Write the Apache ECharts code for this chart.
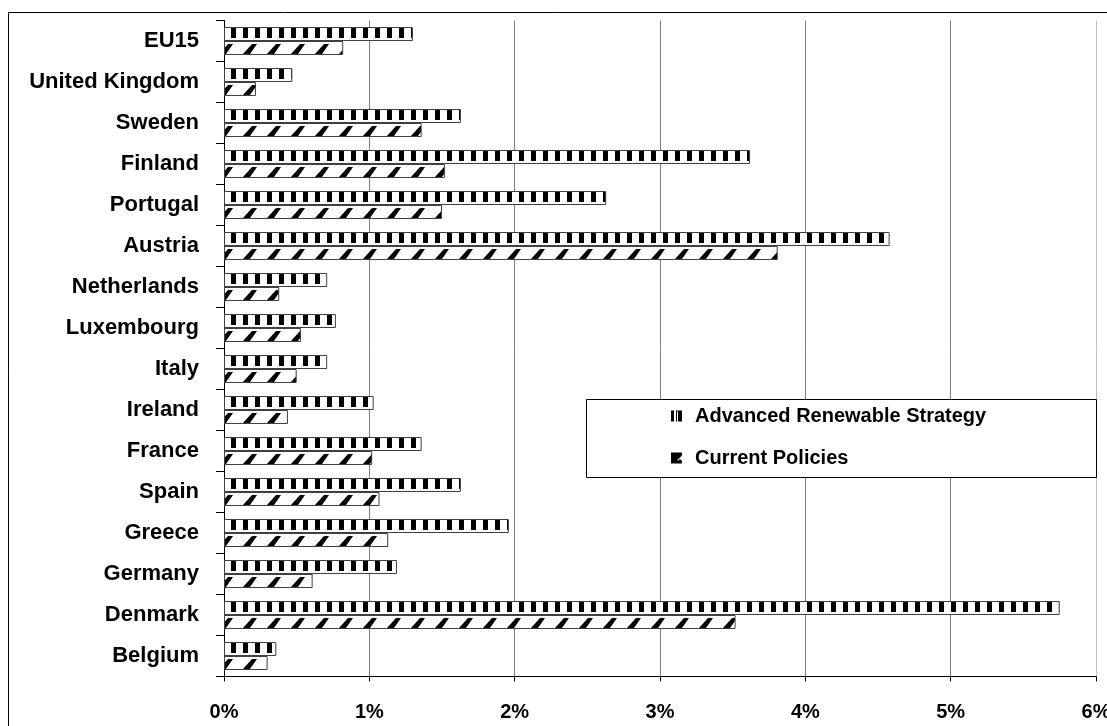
<!DOCTYPE html>
<html>
<head>
<meta charset="utf-8">
<script src="https://cdn.jsdelivr.net/npm/echarts@6/dist/echarts.min.js"></script>
<style>
html,body{margin:0;padding:0;background:#fff;}
#chart{width:1107px;height:726px;}
</style>
</head>
<body>
<div id="chart"></div>
<script>
const categories = ['EU15','United Kingdom','Sweden','Finland','Portugal','Austria','Netherlands','Luxembourg','Italy','Ireland','France','Spain','Greece','Germany','Denmark','Belgium'];
const advancedRenewable = [1.30, 0.47, 1.63, 3.62, 2.63, 4.58, 0.71, 0.77, 0.71, 1.03, 1.36, 1.63, 1.96, 1.19, 5.75, 0.36];
const currentPolicies = [0.82, 0.22, 1.36, 1.52, 1.50, 3.81, 0.38, 0.53, 0.50, 0.44, 1.02, 1.07, 1.13, 0.61, 3.52, 0.30];
const seriesNames = ['Advanced Renewable Strategy', 'Current Policies'];
const xTickValues = [0, 1, 2, 3, 4, 5, 6];
const xTickLabels = ['0%', '1%', '2%', '3%', '4%', '5%', '6%'];

const FONT = '"Liberation Sans", Arial, sans-serif';

function makeCanvas(w, h) {
  const c = document.createElement('canvas');
  c.width = w; c.height = h;
  return c;
}
// pattern tiles are 41px tall = one category band, aligned to the canvas origin
function advPattern() {
  const c = makeCanvas(12, 41), g = c.getContext('2d');
  g.fillStyle = '#fff'; g.fillRect(0, 0, 12, 41);
  g.fillStyle = '#000'; g.fillRect(3, 28, 5, 10);
  return c;
}
function curPattern() {
  const c = makeCanvas(24, 41), g = c.getContext('2d');
  g.fillStyle = '#fff'; g.fillRect(0, 0, 24, 41);
  g.fillStyle = '#000';
  g.beginPath();
  g.moveTo(3, 13); g.lineTo(10, 13); g.lineTo(17, 3); g.lineTo(12, 3); g.closePath();
  g.fill();
  return c;
}
function advIcon() {
  const c = makeCanvas(20, 13), g = c.getContext('2d');
  g.fillStyle = '#fff'; g.fillRect(0, 0, 13, 13);
  g.fillStyle = '#000';
  g.fillRect(1, 1, 3, 11); g.fillRect(6, 1, 6, 11);
  g.fillStyle = '#fff'; g.fillRect(7, 2, 1, 10);
  return c.toDataURL();
}
function curIcon() {
  const c = makeCanvas(20, 13), g = c.getContext('2d');
  g.fillStyle = '#fff'; g.fillRect(0, 0, 13, 13);
  g.fillStyle = '#000'; g.fillRect(1, 1, 11, 11);
  g.fillStyle = '#fff';
  g.beginPath(); g.moveTo(12, 4); g.lineTo(12, 9); g.lineTo(7, 9); g.closePath(); g.fill();
  g.fillStyle = '#000'; g.fillRect(9, 8, 2, 2);
  return c.toDataURL();
}

const chart = echarts.init(document.getElementById('chart'), null, {renderer: 'canvas'});
chart.setOption({
  animation: false,
  backgroundColor: '#fff',
  grid: {left: 224, top: 20.5, height: 656, right: 11, containLabel: false, outerBoundsMode: 'none'},
  xAxis: {
    type: 'value', min: 0, max: 6, interval: 1,
    axisLine: {show: true, lineStyle: {color: '#000', width: 1}},
    axisTick: {show: true, length: 5, lineStyle: {color: '#000'}},
    splitLine: {show: true, lineStyle: {color: ['#808080', '#808080', '#808080', '#808080', '#808080', '#808080', '#c0c0c0'], width: 1}},
    axisLabel: {
      margin: 26, color: '#000', fontFamily: FONT, fontWeight: 'bold', fontSize: 20,
      formatter: v => xTickLabels[xTickValues.indexOf(v)]
    }
  },
  yAxis: {
    type: 'category', data: categories, inverse: true,
    axisLine: {show: true, lineStyle: {color: '#000', width: 1}},
    axisTick: {show: true, length: 8, lineStyle: {color: '#000'}},
    axisLabel: {margin: 25, color: '#000', fontFamily: FONT, fontWeight: 'bold', fontSize: 22}
  },
  legend: {
    orient: 'vertical', left: 665, top: 401, itemGap: 22, itemWidth: 20, itemHeight: 13,
    z: 10,
    textStyle: {color: '#000', fontFamily: FONT, fontWeight: 'bold', fontSize: 20},
    data: [
      {name: seriesNames[0], icon: 'image://' + advIcon()},
      {name: seriesNames[1], icon: 'image://' + curIcon()}
    ]
  },
  graphic: [
    {type: 'rect', z: 3, shape: {x: 8.5, y: 12.5, width: 1200, height: 800}, style: {fill: 'none', stroke: '#000', lineWidth: 1}},
    {type: 'rect', z: 3, shape: {x: 586.5, y: 399.5, width: 510, height: 78}, style: {fill: '#fff', stroke: '#000', lineWidth: 1}}
  ],
  series: [
    {
      name: seriesNames[0], type: 'bar', data: advancedRenewable, barWidth: 14, barGap: '0%',
      itemStyle: {color: {image: advPattern(), repeat: 'repeat'}, borderColor: '#404040', borderWidth: 1}
    },
    {
      name: seriesNames[1], type: 'bar', data: currentPolicies, barWidth: 14, barGap: '0%',
      itemStyle: {color: {image: curPattern(), repeat: 'repeat'}, borderColor: '#404040', borderWidth: 1}
    }
  ]
});
</script>
</body>
</html>
